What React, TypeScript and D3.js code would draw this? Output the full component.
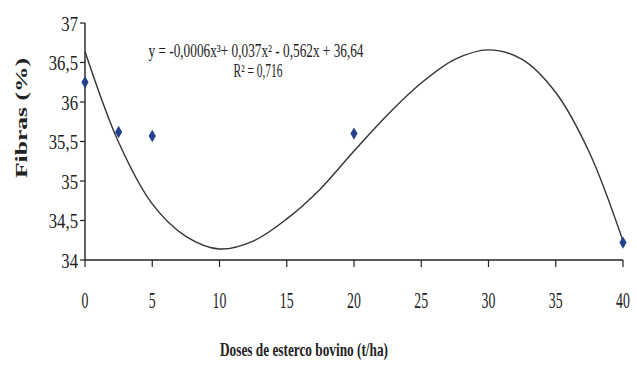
import React from "react";
import * as d3 from "d3";

// observed points
const doses = [0, 2.5, 5, 20, 40];
const fibras = [36.25, 35.62, 35.57, 35.6, 34.22];

// trend line
const trendX = [0, 2.5, 5, 7.5, 10, 12.5, 15, 17.5, 20, 22.5, 25, 27.5, 30, 32.5, 35, 37.5, 40];
const trendY = [36.64, 35.49, 34.71, 34.3, 34.14, 34.24, 34.52, 34.9, 35.38, 35.84, 36.24, 36.54, 36.66, 36.54, 36.12, 35.36, 34.24];

const xTicks = [0, 5, 10, 15, 20, 25, 30, 35, 40];
const yTicks = [34, 34.5, 35, 35.5, 36, 36.5, 37];

const equation = "y = -0,0006x³+ 0,037x² - 0,562x + 36,64";
const r2 = "R² = 0,716";

const W = 637,
  H = 365;
const font = "'Liberation Serif', serif";

export default function App() {
  const x = d3.scaleLinear().domain([0, 40]).range([85, 623]);
  const y = d3.scaleLinear().domain([34, 37]).range([260, 23]);

  const line = d3
    .line<number>()
    .x((d, i) => x(trendX[i]))
    .y(d => y(d))
    .curve(d3.curveCatmullRom);

  const diamond = d3.symbol().type(d3.symbolDiamond).size(44)();
  const fmt = (v: number) => String(v).replace(".", ",");

  return (
    <svg
      width={W}
      height={H}
      style={{ position: "absolute", left: 0, top: 0, background: "#fff", fontFamily: font }}
    >
      {/* axes */}
      <line x1={x(0)} x2={x(0)} y1={y(37)} y2={y(34)} stroke="#222" strokeWidth={1.4} />
      <line x1={x(0)} x2={x(40)} y1={y(34)} y2={y(34)} stroke="#222" strokeWidth={1.6} />
      {yTicks.map(t => (
        <g key={"y" + t}>
          <line x1={x(0) - 5} x2={x(0)} y1={y(t)} y2={y(t)} stroke="#222" strokeWidth={1.2} />
          <text
            transform={`translate(${x(0) - 7},${y(t) + 7.5}) scale(0.76,1)`}
            textAnchor="end"
            fontSize={22}
            fill="#222"
          >
            {fmt(t)}
          </text>
        </g>
      ))}
      {xTicks.map(t => (
        <g key={"x" + t}>
          <line x1={x(t)} x2={x(t)} y1={y(34)} y2={y(34) + 7} stroke="#222" strokeWidth={1.2} />
          <text
            transform={`translate(${x(t)},${308}) scale(0.6,1)`}
            textAnchor="middle"
            fontSize={23}
            fill="#222"
          >
            {t}
          </text>
        </g>
      ))}

      {/* trend */}
      <path d={line(trendY) || ""} fill="none" stroke="#333" strokeWidth={1.4} />

      {/* points */}
      {doses.map((d, i) => (
        <path
          key={"p" + i}
          d={diamond || ""}
          transform={`translate(${x(d)},${y(fibras[i])})`}
          fill="#22408c"
        />
      ))}

      {/* equation */}
      <text
        x={256}
        y={57}
        textAnchor="middle"
        fontSize={18}
        fill="#222"
        textLength={215}
        lengthAdjust="spacingAndGlyphs"
      >
        {equation}
      </text>
      <text
        x={258}
        y={77}
        textAnchor="middle"
        fontSize={18}
        fill="#222"
        textLength={49}
        lengthAdjust="spacingAndGlyphs"
      >
        {r2}
      </text>

      {/* axis titles */}
      <text
        transform={`translate(27,118) rotate(-90)`}
        textAnchor="middle"
        fontSize={16}
        fontWeight="bold"
        fill="#222"
        textLength={120}
        lengthAdjust="spacingAndGlyphs"
      >
        Fibras (%)
      </text>
      <text
        x={304}
        y={356}
        textAnchor="middle"
        fontSize={19}
        fontWeight="bold"
        fill="#222"
        textLength={168}
        lengthAdjust="spacingAndGlyphs"
      >
        Doses de esterco bovino (t/ha)
      </text>
    </svg>
  );
}
